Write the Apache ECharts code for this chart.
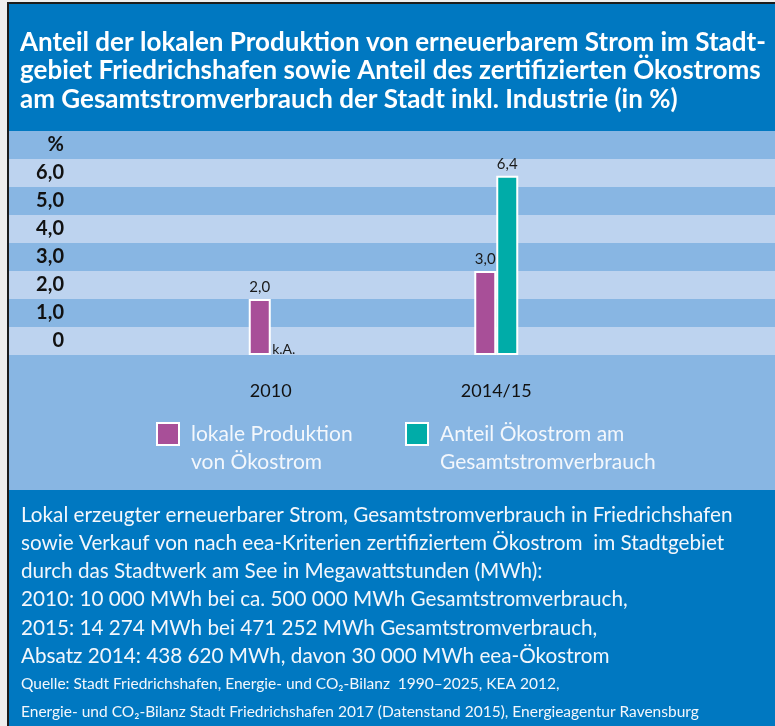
<!DOCTYPE html>
<html>
<head>
<meta charset="utf-8">
<title>Anteil erneuerbarer Strom Friedrichshafen</title>
<script src="https://cdn.jsdelivr.net/npm/echarts@6/dist/echarts.min.js"></script>
<style>
  html, body { margin: 0; padding: 0; background: #eeeeee; }
  #chart { width: 775px; height: 726px; }
</style>
</head>
<body>
<div id="chart"></div>
<script>
// data
const categories = ['2010', '2014/15']
const lokaleProduktion = [2.0, 3.0]
const oekostromAnteil = [null, 6.4] // null = keine Angabe (k.A.)
const yTickLabels = ['0', '1,0', '2,0', '3,0', '4,0', '5,0', '6,0', '%']
const seriesNames = ['lokale Produktion\nvon Ökostrom', 'Anteil Ökostrom am\nGesamtstromverbrauch']

const titleLines = [
  'Anteil der lokalen Produktion von erneuerbarem Strom im Stadt-',
  'gebiet Friedrichshafen sowie Anteil des zertifizierten Ökostroms',
  'am Gesamtstromverbrauch der Stadt inkl. Industrie (in %)'
]
const noteLines = [
  'Lokal erzeugter erneuerbarer Strom, Gesamtstromverbrauch in Friedrichshafen',
  'sowie Verkauf von nach eea-Kriterien zertifiziertem Ökostrom  im Stadtgebiet',
  'durch das Stadtwerk am See in Megawattstunden (MWh):',
  '2010: 10 000 MWh bei ca. 500 000 MWh Gesamtstromverbrauch,',
  '2015: 14 274 MWh bei 471 252 MWh Gesamtstromverbrauch,',
  'Absatz 2014: 438 620 MWh, davon 30 000 MWh eea-Ökostrom'
]
const sourceLines = [
  'Quelle: Stadt Friedrichshafen, Energie- und CO₂-Bilanz  1990–2025, KEA 2012,',
  'Energie- und CO₂-Bilanz Stadt Friedrichshafen 2017 (Datenstand 2015), Energieagentur Ravensburg'
]

const FONT = 'Lato, "Open Sans", sans-serif'
const blue = '#0078c1'
const bandDark = '#88b6e3'
const bandLight = '#bdd3ef'
const purple = '#a84f98'
const teal = '#00aca8'
const textWhite = '#f3f7fc'

const fmt = (v) => v.toFixed(1).replace('.', ',')

const chart = echarts.init(document.getElementById('chart'))

const barLabel = {
  show: true,
  position: 'top',
  distance: 4,
  color: '#1a1a1a',
  fontFamily: FONT,
  fontSize: 15,
  formatter: (p) => fmt(p.value)
}

// legend box: first text line sits level with the square, a bit away from it
const makeLegend = (name, left) => ({
  data: [name],
  left: left,
  top: 392,
  padding: 0,
  icon: 'rect',
  itemWidth: 22,
  itemHeight: 22,
  itemGap: 0,
  selectedMode: false,
  itemStyle: { borderColor: '#ffffff', borderWidth: 2 },
  formatter: (n) => '\n' + n.split('\n').map((s) => '{t|' + s + '}').join('\n'),
  textStyle: {
    color: textWhite,
    fontSize: 21,
    lineHeight: 28,
    fontFamily: FONT,
    rich: {
      t: { color: textWhite, fontSize: 21, lineHeight: 28, fontFamily: FONT, padding: [0, 0, 0, 7] }
    }
  }
})

const option = {
  backgroundColor: '#eeeeee',
  animation: false,
  textStyle: { fontFamily: FONT },
  graphic: [
    {
      type: 'rect',
      z: -20,
      silent: true,
      shape: { x: 8, y: 3, width: 790, height: 750 },
      style: { fill: blue, stroke: '#1c1c1c', lineWidth: 2 }
    },
    {
      type: 'rect',
      z: -10,
      silent: true,
      shape: { x: 9, y: 131, width: 770, height: 359 },
      style: { fill: bandDark }
    }
  ],
  title: [
    {
      text: titleLines.join('\n'),
      left: 20,
      top: 28,
      padding: 0,
      textStyle: {
        color: '#ffffff',
        fontFamily: FONT,
        fontWeight: 'bold',
        fontSize: 26,
        lineHeight: 28.5
      }
    },
    {
      text: noteLines.join('\n'),
      left: 21,
      top: 501,
      padding: 0,
      textStyle: {
        color: textWhite,
        fontFamily: FONT,
        fontWeight: 'normal',
        fontSize: 20.7,
        lineHeight: 28.2
      }
    },
    {
      text: sourceLines.join('\n'),
      left: 21,
      top: 670,
      padding: 0,
      textStyle: {
        color: textWhite,
        fontFamily: FONT,
        fontWeight: 'normal',
        fontSize: 15.5,
        lineHeight: 28
      }
    }
  ],
  legend: [makeLegend(seriesNames[0], 156), makeLegend(seriesNames[1], 405)],
  grid: [
    // striped background with the tick labels
    { left: 9, right: 0, top: 131, height: 224 },
    // bars
    { left: 158, width: 451, top: 131, height: 224 }
  ],
  xAxis: [
    { gridIndex: 0, type: 'value', min: 0, max: 1, show: false },
    {
      gridIndex: 1,
      type: 'category',
      data: categories,
      axisLine: { show: false },
      axisTick: { show: false },
      axisLabel: {
        margin: 27,
        color: '#111111',
        fontFamily: FONT,
        fontSize: 18
      }
    }
  ],
  yAxis: [
    {
      gridIndex: 0,
      type: 'value',
      min: 0,
      max: 8,
      interval: 1,
      axisLine: { show: false },
      axisTick: { show: false },
      axisLabel: { show: false },
      splitLine: { show: false },
      splitArea: { show: true, areaStyle: { color: [bandLight, bandDark] } }
    },
    {
      gridIndex: 0,
      type: 'category',
      data: yTickLabels,
      position: 'left',
      offset: -55,
      axisLine: { show: false },
      axisTick: { show: false },
      splitLine: { show: false },
      axisLabel: {
        margin: 0,
        color: '#111111',
        fontFamily: FONT,
        fontWeight: 'bold',
        fontSize: 20
      }
    },
    {
      gridIndex: 1,
      type: 'value',
      min: 0,
      max: 8,
      show: false,
      splitLine: { show: false }
    }
  ],
  series: [
    {
      name: seriesNames[0],
      type: 'bar',
      xAxisIndex: 1,
      yAxisIndex: 2,
      barWidth: 22,
      barGap: '0%',
      data: lokaleProduktion,
      itemStyle: { color: purple, borderColor: '#ffffff', borderWidth: 2 },
      label: barLabel
    },
    {
      name: seriesNames[1],
      type: 'bar',
      xAxisIndex: 1,
      yAxisIndex: 2,
      barWidth: 22,
      barGap: '0%',
      data: oekostromAnteil.map((v) =>
        v === null
          ? { value: 0, itemStyle: { borderWidth: 0 }, label: { formatter: 'k.A.', distance: 0, offset: [2, 1], fontSize: 14 } }
          : v
      ),
      itemStyle: { color: teal, borderColor: '#ffffff', borderWidth: 2 },
      label: barLabel
    }
  ]
}

chart.setOption(option)
</script>
</body>
</html>
